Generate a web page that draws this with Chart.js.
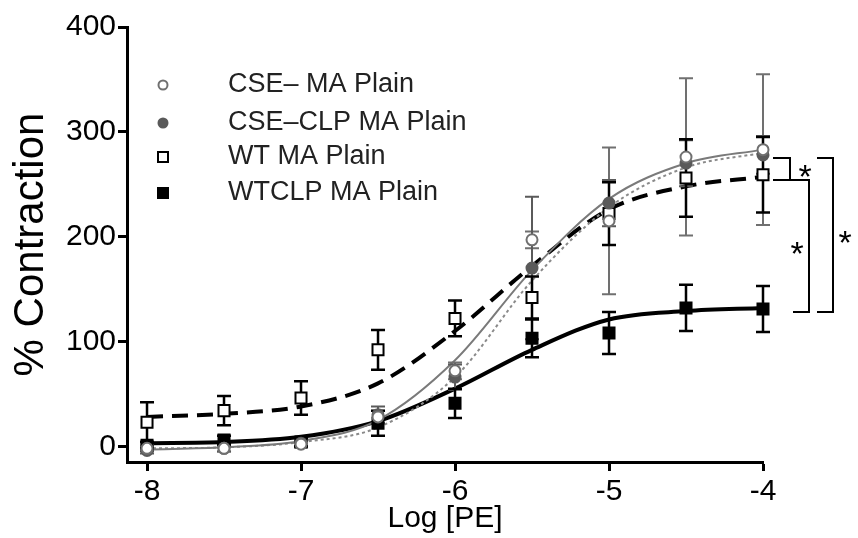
<!DOCTYPE html>
<html><head><meta charset="utf-8">
<script src="https://cdn.jsdelivr.net/npm/chart.js@4/dist/chart.umd.min.js"></script>
<style>html,body{margin:0;padding:0;background:#fff;}#wrap{width:858px;height:538px;position:relative;}</style>
</head><body><div id="wrap"><canvas id="c"></canvas></div>
<script>
// ---- data ----
const logPE = [-8, -7.5, -7, -6.5, -6, -5.5, -5, -4.5, -4];
const seriesNames = ["CSE\u2013 MA Plain", "CSE\u2013CLP MA Plain", "WT MA Plain", "WTCLP MA Plain"];
const cseMean    = [-2, -2, 2, 28, 72, 197, 215, 276, 283];
const cseErr     = [3, 3, 3, 6, 8, 8, 70, 75, 72];
const cseClpMean = [-4, -2, 3, 30, 66, 170, 232, 270, 278];
const cseClpErr  = [3, 3, 4, 8, 12, 68, 22, 22, 18];
const wtMean     = [23, 34, 46, 92, 122, 142, 222, 256, 259];
const wtErr      = [19, 14, 16, 19, 17, 20, 30, 37, 36];
const wtClpMean  = [1, 6, 4, 22, 41, 103, 108, 132, 131];
const wtClpErr   = [3, 4, 4, 12, 14, 18, 20, 22, 22];
// fitted curves
const fitX       = [-8, -7.5, -7, -6.5, -6, -5.5, -5, -4.5, -4];
const cseFit     = [-3, -1, 5, 25, 82, 168, 236, 270, 283];
const cseClpFit  = [-2, -1, 4, 18, 66, 158, 228, 266, 280];
const wtFit      = [28, 31, 38, 60, 110, 172, 226, 248, 257];
const wtClpFit   = [3, 4, 9, 24, 55, 92, 121, 129, 132];
const xTicks = [-8, -7, -6, -5, -4];
const yTicks = [0, 100, 200, 300, 400];
// significance brackets: [upper level, lower level, label]
const bracketTop    = [275, 254, 275];
const bracketBottom = [254, 128, 128];
const bracketLabels = ["*", "*", "*"];

const FONT = "'Liberation Sans', Arial, sans-serif";
const pts = (ys) => logPE.map((x, i) => ({x: x, y: ys[i]}));
const fit = (ys) => fitX.map((x, i) => ({x: x, y: ys[i]}));

const styles = [
  {color: '#707070', fill: '#ffffff', shape: 'circle', radius: 5.5, errW: 2},
  {color: '#5a5a5a', fill: '#5a5a5a', shape: 'circle', radius: 5.5, errW: 2},
  {color: '#000000', fill: '#ffffff', shape: 'rect', radius: 7.8, errW: 2.5},
  {color: '#000000', fill: '#000000', shape: 'rect', radius: 7.8, errW: 2.5}
];
const means = [cseMean, cseClpMean, wtMean, wtClpMean];
const errs = [cseErr, cseClpErr, wtErr, wtClpErr];

const datasets = [
  {label: 'fit1', data: fit(cseFit), borderColor: '#7a7a7a', borderWidth: 2, pointRadius: 0, showLine: true, cubicInterpolationMode: 'monotone', order: 10, clip: false},
  {label: 'fit2', data: fit(cseClpFit), borderColor: '#8a8a8a', borderWidth: 2, borderDash: [3, 3], pointRadius: 0, showLine: true, cubicInterpolationMode: 'monotone', order: 10, clip: false},
  {label: 'fit3', data: fit(wtFit), borderColor: '#000', borderWidth: 4, borderDash: [16, 9], pointRadius: 0, showLine: true, cubicInterpolationMode: 'monotone', order: 10, clip: false},
  {label: 'fit4', data: fit(wtClpFit), borderColor: '#000', borderWidth: 4, pointRadius: 0, showLine: true, cubicInterpolationMode: 'monotone', order: 10, clip: false}
];
means.forEach((m, k) => {
  const s = styles[k];
  datasets.push({label: seriesNames[k], data: pts(m), showLine: false, pointStyle: s.shape,
    pointRadius: s.radius, pointHoverRadius: s.radius, pointBackgroundColor: s.fill,
    pointBorderColor: s.color, pointBorderWidth: 2, order: 1, clip: false, isPoints: true, seriesIndex: k});
});

const errorBarPlugin = {
  id: 'errbars',
  beforeDatasetsDraw(chart) { chart.$errDone = false; },
  beforeDatasetDraw(chart, args) {
    const ds = chart.data.datasets[args.index];
    if (!ds.isPoints || chart.$errDone) return;
    chart.$errDone = true;
    const {ctx, scales: {x, y}} = chart;
    ctx.save();
    means.forEach((m, k) => {
      const s = styles[k];
      ctx.strokeStyle = s.color; ctx.lineWidth = s.errW;
      m.forEach((v, i) => {
        const px = x.getPixelForValue(logPE[i]);
        const t = y.getPixelForValue(v + errs[k][i]);
        const b = y.getPixelForValue(v - errs[k][i]);
        ctx.beginPath();
        ctx.moveTo(px, t); ctx.lineTo(px, b);
        ctx.moveTo(px - 7, t); ctx.lineTo(px + 7, t);
        ctx.moveTo(px - 7, b); ctx.lineTo(px + 7, b);
        ctx.stroke();
      });
    });
    ctx.restore();
  }
};

const decorPlugin = {
  id: 'decor',
  afterDraw(chart) {
    const {ctx, scales: {x, y}} = chart;
    ctx.save();
    // legend
    const rows = [85, 123, 157, 193];
    ctx.font = "27px " + FONT;
    ctx.textBaseline = 'middle';
    ctx.textAlign = 'left';
    seriesNames.forEach((name, k) => {
      const s = styles[k];
      const cx = 163, cy = rows[k];
      ctx.lineWidth = 2; ctx.strokeStyle = s.color; ctx.fillStyle = s.fill;
      ctx.beginPath();
      if (s.shape === 'circle') ctx.arc(cx, cy, 4.5, 0, Math.PI * 2);
      else ctx.rect(cx - 5, cy - 5, 10, 10);
      ctx.fill(); ctx.stroke();
      ctx.fillStyle = '#222';
      ctx.fillText(name, 228, cy);
    });
    // significance brackets
    const xr = x.getPixelForValue(-4);
    const geom = [
      {x0: xr + 10, x1: xr + 27, sx: xr + 42},
      {x0: xr + 30, x1: xr + 46, sx: xr + 34},
      {x0: xr + 54, x1: xr + 70, sx: xr + 82}
    ];
    ctx.strokeStyle = '#000'; ctx.lineWidth = 2;
    ctx.fillStyle = '#000';
    ctx.font = "34px " + FONT;
    ctx.textAlign = 'center';
    bracketTop.forEach((tv, i) => {
      const g = geom[i];
      const t = y.getPixelForValue(tv), b = y.getPixelForValue(bracketBottom[i]);
      const x0 = (i === 1) ? xr + 10 : g.x0;
      ctx.beginPath();
      ctx.moveTo(x0, t); ctx.lineTo(g.x1, t); ctx.lineTo(g.x1, b); ctx.lineTo(g.x0, b);
      ctx.stroke();
      const sy = (t + b) / 2 + 10;
      ctx.fillText(bracketLabels[i], g.sx, sy);
    });
    ctx.restore();
  }
};

new Chart(document.getElementById('c'), {
  type: 'scatter',
  data: {datasets: datasets},
  plugins: [errorBarPlugin, decorPlugin],
  options: {
    responsive: true, maintainAspectRatio: false, animation: false,
    layout: {padding: {top: 27, right: 95, left: 0, bottom: 0}},
    plugins: {legend: {display: false}, tooltip: {enabled: false}},
    scales: {
      x: {
        type: 'linear', min: -8.13, max: -4,
        afterBuildTicks: (s) => { s.ticks = xTicks.map(v => ({value: v})); },
        afterFit: (s) => { s.height = 76; },
        grid: {display: true, drawOnChartArea: false, drawTicks: true, tickLength: 9, tickWidth: 3, color: '#000'},
        border: {display: true, width: 3, color: '#000'},
        ticks: {font: {size: 30, family: FONT}, color: '#000', padding: 3, maxRotation: 0, autoSkip: false},
        title: {display: true, text: 'Log [PE]', font: {size: 30, family: FONT}, color: '#000', padding: {top: 0, bottom: 1}}
      },
      y: {
        type: 'linear', min: -15, max: 400,
        afterBuildTicks: (s) => { s.ticks = yTicks.map(v => ({value: v})); },
        afterFit: (s) => { s.width = 127; },
        grid: {display: true, drawOnChartArea: false, drawTicks: true, tickLength: 9, tickWidth: 3, color: '#000'},
        border: {display: true, width: 3, color: '#000'},
        ticks: {font: {size: 30, family: FONT}, color: '#000', padding: 2},
        title: {display: true, text: '% Contraction', font: {size: 42, family: FONT}, color: '#000', padding: {top: 6, bottom: 0}}
      }
    }
  }
});
</script></body></html>
